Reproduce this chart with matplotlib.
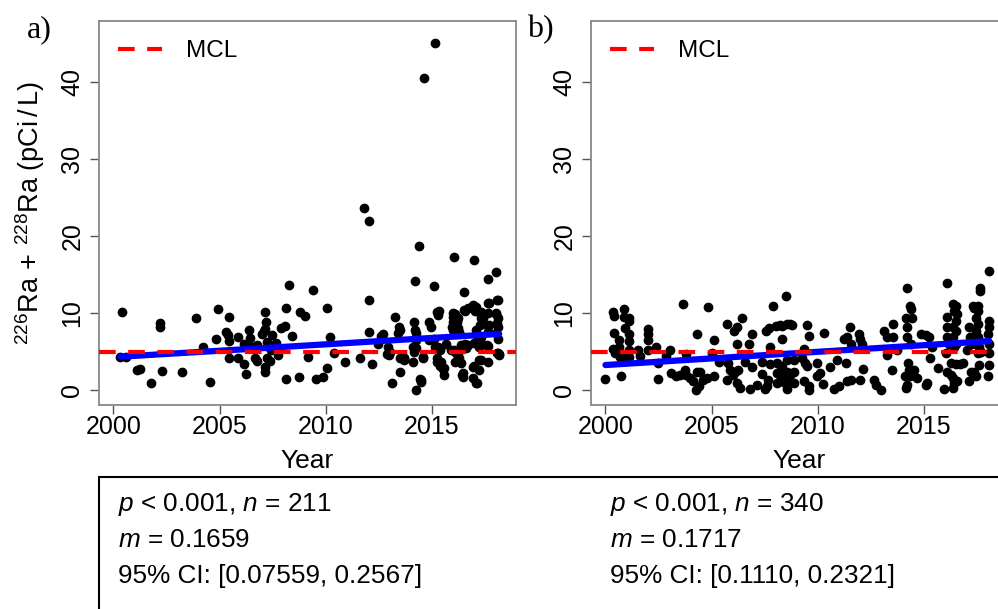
import matplotlib
matplotlib.use("Agg")
import matplotlib.pyplot as plt
from matplotlib.patches import Rectangle
import numpy as np

plt.rcParams['font.family'] = ['Liberation Sans', 'DejaVu Sans']
plt.rcParams['mathtext.fontset'] = 'custom'
plt.rcParams['mathtext.rm'] = 'Liberation Sans'
plt.rcParams['mathtext.it'] = 'Liberation Sans:italic'

# panel a: sampling year and 226Ra+228Ra (pCi/L)
a_year = [2000.41, 2000.61, 2001.23, 2001.10, 2001.78, 2002.20, 2002.20, 2002.28, 2003.25, 2003.90,
          2004.23, 2004.56, 2004.94, 2004.83, 2005.42, 2005.30, 2005.38, 2005.46, 2005.46, 2005.88,
          2005.88, 2006.15, 2006.26, 2006.40, 2006.45, 2006.15, 2006.30, 2006.53, 2006.65, 2006.78,
          2006.75, 2007.00, 2007.07, 2007.13, 2007.16, 2007.19, 2007.16, 2007.16, 2007.25, 2007.34,
          2007.40, 2007.22, 2007.37, 2007.47, 2007.64, 2007.75, 2007.88, 2008.08, 2008.11, 2008.27,
          2008.11, 2008.43, 2008.73, 2008.79, 2009.00, 2009.17, 2009.42, 2009.53, 2009.89, 2010.08,
          2010.19, 2010.08, 2010.39, 2010.90, 2011.62, 2011.78, 2012.03, 2012.03, 2012.06, 2012.18,
          2012.44, 2012.59, 2012.69, 2012.94, 2013.03, 2013.00, 2012.88, 2013.11, 2013.25, 2013.46,
          2013.50, 2013.41, 2013.50, 2013.67, 2013.48, 2014.10, 2014.17, 2014.20, 2014.26, 2014.10,
          2014.26, 2014.21, 2014.40, 2014.45, 2014.48, 2014.26, 2014.58, 2014.88, 2014.95, 2015.08,
          2015.24, 2015.30, 2015.32, 2015.24, 2015.40, 2015.50, 2015.55, 2015.11, 2015.14, 2015.66,
          2015.40, 2016.02, 2015.98, 2016.08, 2016.21, 2015.98, 2015.93, 2016.05, 2016.21, 2016.29,
          2016.52, 2016.56, 2016.68, 2016.05, 2016.21, 2016.24, 2016.08, 2016.37, 2016.56, 2016.60,
          2016.40, 2016.45, 2016.97, 2016.97, 2017.09, 2017.03, 2017.23, 2017.31, 2017.28, 2017.09,
          2017.16, 2017.13, 2017.31, 2017.23, 2016.97, 2017.09, 2016.95, 2017.23, 2017.65, 2017.63,
          2018.02, 2018.07, 2017.63, 2018.02, 2018.09, 2018.07, 2018.09, 2018.02, 2018.09, 2017.63,
          2017.60, 2018.17, 2018.07, 2017.63, 2014.61, 2015.16, 2014.25, 2013.70, 2014.56, 2015.24,
          2015.42, 2015.58, 2014.48, 2016.45, 2016.92, 2017.12, 2018.09, 2018.17, 2015.98, 2016.05,
          2016.18, 2015.98, 2016.29, 2016.52, 2015.90, 2016.13, 2016.29, 2016.37, 2016.68, 2017.00,
          2017.23, 2016.92, 2017.31, 2017.39, 2017.70, 2017.65, 2018.02, 2018.10, 2017.70, 2017.65,
          2017.31, 2017.12, 2015.27, 2014.87, 2014.17, 2013.70, 2017.31, 2017.23, 2000.33]
a_val = [10.14, 4.38, 2.80, 2.60, 1.01, 8.70, 8.20, 2.53, 2.44, 9.36,
         5.68, 1.10, 10.53, 6.64, 9.49, 7.55, 7.16, 6.46, 4.26, 6.98,
         4.26, 3.40, 2.14, 7.80, 6.77, 6.03, 5.77, 5.68, 4.18, 3.87,
         5.86, 7.29, 7.76, 7.94, 10.14, 8.93, 3.09, 2.44, 6.29, 5.68,
         5.25, 4.18, 3.79, 7.16, 6.12, 4.57, 8.07, 8.37, 10.74, 13.68,
         1.45, 7.07, 1.71, 10.14, 9.66, 4.38, 13.03, 1.45, 1.79, 10.74,
         6.90, 2.88, 4.82, 3.74, 4.26, 23.63, 22.03, 11.74, 7.63, 3.40,
         5.99, 7.10, 7.29, 5.68, 5.03, 4.60, 4.69, 0.93, 9.57, 8.20,
         7.85, 7.50, 4.18, 4.18, 2.36, 3.74, 8.93, 7.85, 7.42, 5.68,
         5.47, 14.16, 18.74, 1.45, 1.14, 0.05, 4.26, 8.93, 8.28, 13.55,
         10.22, 9.79, 10.35, 3.66, 3.22, 2.79, 2.01, 6.64, 5.68, 6.03,
         5.25, 17.35, 9.57, 9.92, 9.36, 8.93, 8.28, 7.85, 8.07, 7.42,
         12.81, 10.35, 10.66, 5.25, 4.82, 4.18, 3.74, 5.90, 6.03, 5.47,
         2.01, 2.31, 16.93, 10.96, 10.87, 10.35, 10.22, 9.36, 8.50, 7.85,
         6.98, 6.33, 6.12, 5.77, 3.18, 1.01, 1.58, 3.96, 3.74, 14.42,
         15.33, 11.74, 11.31, 9.92, 9.36, 8.79, 8.28, 7.42, 6.64, 8.37,
         5.90, 4.69, 4.90, 5.77, 40.50, 45.00, 6.55, 4.18, 4.30, 4.18,
         3.74, 2.88, 1.36, 1.71, 3.09, 0.93, 4.82, 4.60, 10.00, 9.36,
         8.92, 7.85, 7.63, 10.44, 5.25, 4.82, 4.18, 3.53, 5.90, 6.12,
         5.68, 11.09, 10.22, 9.36, 11.31, 10.01, 10.01, 11.74, 8.50, 7.63,
         6.98, 6.42, 5.68, 6.55, 5.03, 3.96, 3.96, 2.66, 4.40]

# panel b
b_year = [2000.00, 2000.35, 2000.38, 2000.38, 2000.35, 2000.43, 2000.63, 2000.63, 2000.69, 2000.74,
          2000.87, 2000.87, 2001.10, 2001.10, 2000.90, 2001.13, 2001.13, 2001.13, 2000.98, 2001.13,
          2001.53, 2001.61, 2002.00, 2002.00, 2002.00, 2002.00, 2002.36, 2002.47, 2002.47, 2002.84,
          2003.03, 2003.10, 2003.34, 2003.50, 2003.63, 2003.74, 2003.81, 2003.81, 2003.97, 2004.13,
          2004.29, 2004.25, 2004.41, 2004.44, 2004.60, 2004.76, 2004.33, 2004.84, 2005.04, 2005.12,
          2005.12, 2005.36, 2005.71, 2005.71, 2005.78, 2005.86, 2006.02, 2006.10, 2006.26, 2006.18,
          2006.34, 2006.05, 2006.21, 2006.18, 2006.44, 2006.57, 2006.89, 2006.89, 2006.78, 2006.81,
          2007.13, 2007.36, 2007.36, 2007.52, 2007.60, 2007.75, 2007.75, 2007.67, 2007.55, 2007.72,
          2007.91, 2008.04, 2008.20, 2008.51, 2008.54, 2008.54, 2008.07, 2008.07, 2008.23, 2008.07,
          2008.31, 2008.46, 2008.31, 2008.26, 2008.54, 2008.31, 2008.67, 2008.78, 2008.31, 2008.38,
          2008.78, 2008.62, 2008.70, 2008.86, 2008.54, 2008.90, 2008.86, 2009.25, 2009.33, 2009.41,
          2009.49, 2009.49, 2009.57, 2009.33, 2009.57, 2009.61, 2009.98, 2009.98, 2010.12, 2010.27,
          2010.31, 2010.56, 2010.75, 2010.91, 2010.98, 2011.25, 2011.38, 2011.54, 2011.57, 2011.35,
          2011.38, 2011.57, 2011.98, 2011.93, 2012.01, 2012.09, 2012.14, 2012.64, 2012.72, 2012.99,
          2013.11, 2013.24, 2013.27, 2013.55, 2013.55, 2013.52, 2013.74, 2014.14, 2014.22, 2014.34,
          2014.41, 2014.45, 2014.18, 2014.18, 2014.37, 2014.25, 2014.30, 2014.34, 2014.22, 2014.10,
          2014.14, 2014.53, 2014.66, 2014.85, 2015.08, 2015.24, 2015.40, 2015.29, 2015.16, 2015.08,
          2015.66, 2015.95, 2016.11, 2016.08, 2016.08, 2016.11, 2016.19, 2016.03, 2016.35, 2016.50,
          2016.42, 2016.58, 2016.50, 2016.39, 2016.50, 2016.39, 2016.50, 2016.42, 2016.26, 2016.50,
          2016.70, 2016.11, 2016.26, 2016.35, 2016.42, 2016.39, 2016.58, 2017.13, 2017.18, 2017.21,
          2017.29, 2017.37, 2017.53, 2017.56, 2017.45, 2017.53, 2017.45, 2017.53, 2017.45, 2017.60,
          2017.53, 2017.65, 2017.65, 2017.60, 2017.21, 2017.37, 2017.13, 2017.45, 2018.08, 2018.08,
          2018.08, 2018.00, 2018.08, 2018.08, 2018.08, 2018.03, 2017.68, 2017.05, 2016.82]
b_val = [1.49, 10.23, 9.68, 7.43, 5.44, 4.80, 5.64, 6.58, 4.37, 1.82,
         10.53, 9.55, 9.46, 9.04, 8.11, 7.35, 6.41, 5.31, 4.46, 4.37,
         5.31, 4.46, 7.99, 7.35, 6.58, 5.31, 5.64, 3.60, 1.49, 4.50,
         5.22, 2.25, 1.82, 2.04, 11.17, 2.68, 4.71, 2.04, 1.62, 1.18,
         2.46, 0.04, 0.55, 2.46, 1.40, 1.62, 7.26, 10.87, 4.88, 6.50,
         1.91, 3.66, 8.62, 1.40, 3.53, 2.68, 2.04, 2.46, 2.68, 0.98,
         0.34, 7.77, 8.19, 5.99, 9.34, 3.73, 3.10, 7.26, 6.08, 0.13,
         0.76, 3.73, 2.17, 0.13, 0.55, 5.64, 3.44, 1.40, 7.68, 8.11,
         10.96, 8.41, 8.54, 12.23, 8.62, 3.95, 3.53, 2.25, 2.04, 0.98,
         1.18, 0.98, 6.71, 3.18, 2.46, 8.41, 8.62, 8.54, 3.10, 2.25,
         2.25, 1.62, 1.18, 0.98, 0.13, 2.46, 3.95, 4.16, 5.44, 3.53,
         3.18, 8.54, 7.04, 1.18, 0.55, 0.00, 3.60, 1.82, 2.33, 0.89,
         7.43, 3.02, 0.22, 3.95, 0.55, 6.71, 6.92, 8.19, 6.08, 3.53,
         1.18, 1.40, 1.40, 7.35, 6.71, 6.08, 2.76, 1.40, 0.76, 0.00,
         7.77, 6.92, 4.59, 8.62, 6.92, 2.68, 5.22, 9.46, 13.29, 10.96,
         10.53, 9.46, 8.19, 6.92, 6.08, 3.53, 2.68, 1.82, 0.76, 1.82,
         0.34, 2.68, 1.62, 7.35, 7.13, 6.92, 5.64, 4.16, 0.98, 0.76,
         2.89, 0.13, 13.92, 9.55, 8.19, 6.92, 6.08, 4.80, 11.17, 10.96,
         10.32, 9.90, 9.04, 8.19, 7.77, 6.92, 6.08, 5.64, 3.53, 3.44,
         3.44, 2.46, 2.04, 1.62, 0.98, 0.34, 1.18, 8.19, 6.92, 6.08,
         10.96, 10.74, 10.96, 10.32, 9.46, 8.62, 7.77, 6.92, 6.08, 5.64,
         4.80, 13.29, 12.87, 3.31, 2.46, 2.46, 1.18, 1.82, 15.54, 9.04,
         8.19, 7.35, 6.08, 4.80, 3.31, 1.82, 5.00, 5.22, 3.53]

# fitted trend (slope per year, value at 2000)
slopes = [0.1659, 0.1717]
intercepts_2000 = [4.325, 3.30]
mcl = 5

stats_lines = [
    [r'$p$ < 0.001, $n$ = 211', r'$m$ = 0.1659', '95% CI: [0.07559, 0.2567]'],
    [r'$p$ < 0.001, $n$ = 340', r'$m$ = 0.1717', '95% CI: [0.1110, 0.2321]'],
]
panel_tags = ['a)', 'b)']

W, H = 998, 609
fig = plt.figure(figsize=(W / 100, H / 100), dpi=100)

axes_left = [99, 591]
tag_left = [27, 527]
for i, (xs, ys) in enumerate([(a_year, a_val), (b_year, b_val)]):
    ax = fig.add_axes([axes_left[i] / W, (H - 405) / H, 417 / W, 384 / H])
    ax.plot(xs, ys, 'o', color='black', ms=6, mec='black', zorder=2)
    xr = np.array([min(xs), max(xs)])
    ax.plot(xr, intercepts_2000[i] + slopes[i] * (xr - 2000), color='#0000ff', lw=4.5,
            solid_capstyle='round', zorder=3)
    ax.axhline(mcl, color='#ff0000', lw=3, dashes=(4, 3), label='MCL', zorder=4)

    ax.set_xlim(1999.32, 2018.96)
    ax.set_ylim(-1.88, 47.9)
    ax.set_xticks([2000, 2005, 2010, 2015])
    ax.set_yticks([0, 10, 20, 30, 40])
    ax.tick_params(axis='both', direction='out', length=6.5, width=1, color='#555555',
                   labelsize=18)
    ax.tick_params(axis='x', pad=1)
    ax.tick_params(axis='y', pad=4)
    for lab in ax.get_yticklabels():
        lab.set_rotation(90)
        lab.set_va('center')
    for sp in ax.spines.values():
        sp.set_color('#888888')
        sp.set_linewidth(1.3)
    ax.set_xlabel('Year', fontsize=19, labelpad=7)

    ax.legend(loc='upper left', frameon=False, fontsize=17.5, handlelength=1.8,
              handletextpad=1.0, borderaxespad=0.3, borderpad=0.5)

    fig.text(tag_left[i] / W, (H - 30) / H, panel_tags[i], family='Liberation Serif',
             fontsize=23, va='center', ha='left')

    if i == 0:
        ax.set_ylabel(r'$^{226}$Ra$\,+\,^{228}$Ra (pCi$\,/\,$L)', fontsize=19.5)
        ax.yaxis.set_label_coords(-0.125, 0.5)

# statistics box below the panels
fig.add_artist(Rectangle((99 / W, -0.1), 1.0, (H - 477) / H + 0.1, transform=fig.transFigure,
                         fill=False, edgecolor='black', lw=1.5, clip_on=False))
col_x = [118, 610]
base_y = [511, 547, 583]
for c in range(2):
    for r in range(3):
        fig.text(col_x[c] / W, (H - base_y[r]) / H, stats_lines[c][r], fontsize=18.8,
                 va='baseline', ha='left')

fig.savefig('out.png', dpi=100)
